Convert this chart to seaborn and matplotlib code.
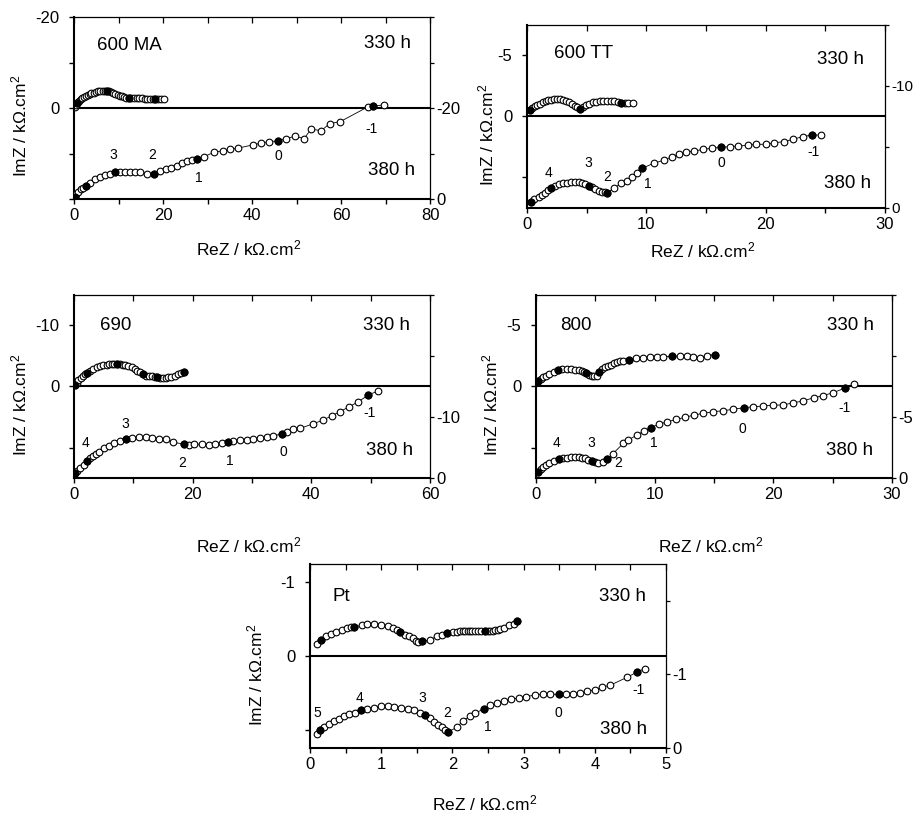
import matplotlib
matplotlib.use("Agg")
import matplotlib.pyplot as plt
import seaborn as sns
from matplotlib import font_manager

# ------------------------------------------------------------------ data
# 600 MA
ma_re_330 = [0.2,0.4,0.6,0.9,1.2,1.5,1.9,2.3,2.7,3.1,3.5,3.9,4.4,4.9,5.4,5.9,6.4,6.9,7.3,7.8,8.3,8.8,9.3,9.8,10.3,10.8,11.3,11.7,12.3,12.9,13.5,14.1,14.7,15.3,15.9,16.5,17.1,17.7,18.3,18.9,19.5,20.3]
ma_im_330 = [-0.3,-0.7,-1.0,-1.35,-1.65,-1.9,-2.2,-2.45,-2.7,-2.9,-3.1,-3.25,-3.4,-3.55,-3.65,-3.72,-3.78,-3.8,-3.75,-3.65,-3.5,-3.35,-3.15,-2.95,-2.75,-2.55,-2.4,-2.3,-2.25,-2.2,-2.2,-2.15,-2.15,-2.1,-2.05,-2.05,-2.0,-1.95,-1.95,-1.9,-1.95,-2.0]
ma_fill_330 = [2, 18, 28, 38]
ma_re_380 = [0.2,0.5,1.0,1.6,2.1,2.7,3.6,4.7,5.8,7.0,8.1,9.1,10.4,11.5,12.6,13.7,14.8,16.3,18.0,19.3,20.7,21.9,23.1,24.3,25.4,26.4,27.7,29.2,31.5,33.4,35.1,36.9,40.2,42.0,43.9,45.8,47.6,49.7,51.7,53.3,55.5,57.5,59.8,66.1,67.1,69.7]
ma_im_380 = [-0.4,-1.0,-1.6,-2.1,-2.4,-2.8,-3.6,-4.3,-4.9,-5.3,-5.6,-5.87,-5.95,-5.95,-5.95,-5.9,-5.85,-5.5,-5.45,-6.2,-6.5,-6.9,-7.25,-8.0,-8.4,-8.6,-8.9,-9.3,-10.3,-10.6,-10.9,-11.2,-11.9,-12.3,-12.6,-12.8,-13.3,-13.8,-13.3,-15.4,-15.0,-16.6,-17.0,-20.3,-20.4,-20.7]
ma_fill_380 = [0, 5, 11, 18, 26, 35, 44]
ma_dec_text = ["3", "2", "1", "0", "-1"]
ma_dec_x = [8.8, 17.5, 28.1, 45.9, 66.9]
ma_dec_y = [-9.7, -9.7, -4.7, -9.5, -15.5]

# 600 TT
tt_re_330 = [0.28,0.45,0.65,0.85,1.05,1.3,1.55,1.8,2.05,2.3,2.55,2.8,3.05,3.3,3.55,3.8,4.0,4.2,4.47,4.7,4.95,5.2,5.5,5.8,6.1,6.4,6.7,7.0,7.3,7.6,7.9,8.2,8.5,8.9]
tt_im_330 = [-0.57,-0.7,-0.82,-0.95,-1.05,-1.15,-1.25,-1.32,-1.37,-1.4,-1.4,-1.4,-1.37,-1.3,-1.2,-1.05,-0.9,-0.75,-0.63,-0.8,-0.95,-1.05,-1.15,-1.22,-1.27,-1.3,-1.3,-1.28,-1.25,-1.18,-1.1,-1.07,-1.07,-1.07]
tt_fill_330 = [0, 18, 30]
tt_re_380 = [0.34,0.6,0.98,1.25,1.54,1.8,2.04,2.35,2.65,3.0,3.35,3.7,4.05,4.35,4.6,4.9,5.17,5.45,5.73,6.0,6.29,6.5,6.7,7.27,7.88,8.38,8.8,9.22,9.64,10.6,11.5,12.15,12.7,13.3,14.0,14.75,15.5,16.26,17.0,17.7,18.5,19.2,20.0,20.7,21.5,22.3,23.1,23.9,24.6]
tt_im_380 = [-0.52,-0.72,-0.93,-1.1,-1.25,-1.45,-1.66,-1.82,-1.94,-2.02,-2.07,-2.11,-2.13,-2.11,-2.07,-1.97,-1.83,-1.68,-1.53,-1.42,-1.34,-1.28,-1.25,-1.61,-2.02,-2.2,-2.57,-2.84,-3.25,-3.66,-3.93,-4.2,-4.43,-4.57,-4.67,-4.8,-4.9,-4.97,-5.03,-5.08,-5.14,-5.22,-5.22,-5.35,-5.43,-5.63,-5.85,-5.98,-5.98]
tt_fill_380 = [0, 6, 16, 22, 28, 37, 47]
tt_dec_text = ["4", "3", "2", "1", "0", "-1"]
tt_dec_x = [1.8, 5.1, 6.7, 10.1, 16.3, 24.0]
tt_dec_y = [-2.84, -3.66, -2.57, -1.94, -3.66, -4.62]

# 690
a690_re_330 = [0.17,0.45,0.73,1.1,1.5,1.85,2.2,2.7,3.25,3.8,4.4,4.95,5.5,5.95,6.35,6.8,7.2,7.7,8.2,8.6,9.1,9.7,10.2,10.6,11.1,11.7,12.2,12.7,13.1,13.6,14.0,14.5,15.0,15.5,15.9,16.4,17.0,17.5,18.0,18.6]
a690_im_330 = [-0.2,-0.6,-1.0,-1.4,-1.75,-2.0,-2.2,-2.55,-2.9,-3.15,-3.33,-3.45,-3.55,-3.63,-3.7,-3.72,-3.72,-3.65,-3.55,-3.45,-3.3,-3.12,-2.9,-2.62,-2.3,-1.97,-1.8,-1.7,-1.64,-1.55,-1.5,-1.45,-1.42,-1.45,-1.53,-1.62,-1.8,-2.0,-2.2,-2.4]
a690_fill_330 = [0, 6, 16, 25, 30, 39]
a690_re_380 = [0.17,0.55,1.0,1.6,2.25,2.75,3.25,3.7,4.2,5.06,5.9,6.74,7.75,8.76,9.8,10.95,12.1,13.2,14.3,15.45,16.7,18.5,19.3,20.3,21.5,22.8,23.8,25.0,25.9,26.85,28.0,29.1,30.2,31.3,32.5,33.5,35.0,35.95,36.96,38.1,40.2,42.0,43.4,44.8,46.4,47.9,49.6,51.3]
a690_im_380 = [-0.87,-1.2,-1.59,-2.2,-2.84,-3.25,-3.6,-3.95,-4.3,-4.86,-5.3,-5.8,-6.1,-6.34,-6.6,-6.67,-6.67,-6.5,-6.39,-6.34,-5.85,-5.57,-5.41,-5.52,-5.52,-5.41,-5.52,-5.79,-5.95,-6.07,-6.23,-6.23,-6.39,-6.5,-6.67,-6.89,-7.21,-7.6,-8.03,-8.14,-8.85,-9.5,-10.2,-10.87,-11.7,-12.5,-13.6,-14.3]
a690_fill_380 = [0, 4, 13, 21, 28, 36, 46]
a690_dec_text = ["4", "3", "2", "1", "0", "-1"]
a690_dec_x = [2.0, 8.6, 18.3, 26.2, 35.2, 49.8]
a690_dec_y = [-5.68, -8.85, -2.4, -2.84, -4.3, -10.6]

# 800
a800_re_330 = [0.2,0.4,0.62,0.85,1.12,1.5,1.88,2.2,2.59,2.95,3.29,3.6,3.85,4.05,4.2,4.45,4.69,4.9,5.11,5.34,5.58,5.81,6.05,6.3,6.55,6.8,7.08,7.36,7.87,8.43,9.0,9.6,10.2,10.7,11.5,12.1,12.7,13.2,13.8,14.4,15.1]
a800_im_330 = [-0.49,-0.62,-0.77,-0.9,-1.04,-1.22,-1.37,-1.42,-1.45,-1.43,-1.39,-1.35,-1.31,-1.2,-1.09,-0.98,-0.9,-0.86,-0.85,-1.17,-1.4,-1.58,-1.68,-1.78,-1.9,-1.99,-2.06,-2.13,-2.19,-2.32,-2.35,-2.4,-2.42,-2.44,-2.46,-2.46,-2.46,-2.44,-2.35,-2.54,-2.62]
a800_fill_330 = [0, 6, 14, 19, 28, 34, 40]
a800_re_380 = [0.2,0.4,0.62,0.85,1.12,1.5,1.96,2.3,2.59,2.95,3.29,3.6,3.85,4.1,4.4,4.69,4.95,5.25,5.62,6.0,6.46,7.36,7.78,8.49,9.1,9.7,10.4,11.06,11.8,12.55,13.3,14.1,14.9,15.8,16.6,17.5,18.3,19.15,20.0,20.8,21.7,22.5,23.4,24.2,25.05,26.0,26.8]
a800_im_380 = [-0.52,-0.7,-0.88,-1.05,-1.2,-1.38,-1.53,-1.6,-1.67,-1.72,-1.75,-1.73,-1.67,-1.6,-1.5,-1.39,-1.32,-1.26,-1.34,-1.53,-1.97,-2.84,-3.11,-3.52,-3.85,-4.13,-4.43,-4.6,-4.8,-4.97,-5.16,-5.3,-5.43,-5.52,-5.63,-5.76,-5.84,-5.9,-5.98,-5.98,-6.17,-6.31,-6.58,-6.75,-7.0,-7.35,-7.68]
a800_fill_380 = [0, 6, 15, 19, 25, 35, 45]
a800_dec_text = ["4", "3", "2", "1", "0", "-1"]
a800_dec_x = [1.74, 4.69, 6.94, 9.89, 17.4, 25.96]
a800_dec_y = [-2.84, -2.84, -1.2, -2.84, -3.99, -5.71]

# Pt
pt_re_330 = [0.10,0.15,0.23,0.30,0.37,0.445,0.515,0.57,0.62,0.73,0.80,0.90,0.99,1.09,1.17,1.22,1.27,1.33,1.39,1.44,1.49,1.52,1.57,1.69,1.78,1.85,1.93,2.01,2.06,2.11,2.15,2.18,2.22,2.25,2.28,2.32,2.36,2.40,2.46,2.50,2.53,2.57,2.60,2.64,2.67,2.73,2.80,2.86,2.91]
pt_im_330 = [-0.17,-0.22,-0.27,-0.30,-0.33,-0.36,-0.38,-0.39,-0.40,-0.415,-0.43,-0.43,-0.425,-0.41,-0.38,-0.355,-0.33,-0.29,-0.27,-0.24,-0.21,-0.19,-0.20,-0.22,-0.27,-0.29,-0.315,-0.325,-0.33,-0.335,-0.335,-0.34,-0.34,-0.34,-0.34,-0.34,-0.34,-0.34,-0.34,-0.34,-0.34,-0.345,-0.35,-0.36,-0.37,-0.38,-0.415,-0.44,-0.48]
pt_fill_330 = [1, 8, 16, 22, 26, 38, 48]
pt_re_380 = [0.10,0.14,0.20,0.27,0.34,0.41,0.48,0.55,0.63,0.71,0.80,0.90,1.00,1.09,1.18,1.28,1.37,1.46,1.54,1.61,1.68,1.74,1.80,1.85,1.90,1.94,2.06,2.15,2.24,2.32,2.44,2.53,2.62,2.72,2.82,2.93,3.04,3.16,3.27,3.37,3.49,3.60,3.70,3.79,3.89,4.00,4.10,4.21,4.45,4.59,4.70]
pt_im_380 = [-0.19,-0.24,-0.28,-0.33,-0.37,-0.40,-0.43,-0.46,-0.48,-0.51,-0.53,-0.55,-0.57,-0.57,-0.56,-0.54,-0.53,-0.51,-0.475,-0.45,-0.41,-0.36,-0.315,-0.28,-0.25,-0.22,-0.28,-0.37,-0.43,-0.475,-0.53,-0.58,-0.61,-0.64,-0.66,-0.68,-0.70,-0.72,-0.73,-0.73,-0.73,-0.74,-0.74,-0.745,-0.77,-0.79,-0.83,-0.85,-0.96,-1.03,-1.08]
pt_fill_380 = [1, 9, 19, 25, 30, 40, 49]
pt_dec_text = ["5", "4", "3", "2", "1", "0", "-1"]
pt_dec_x = [0.10, 0.69, 1.58, 1.93, 2.50, 3.49, 4.61]
pt_dec_y = [-0.48, -0.68, -0.68, -0.48, -0.29, -0.48, -0.79]

# tick labels
ma_xticks = [0, 10, 20, 30, 40, 50, 60, 70, 80]
ma_xlabels = ["0", "", "20", "", "40", "", "60", "", "80"]
tt_xticks = [0, 5, 10, 15, 20, 25, 30]
tt_xlabels = ["0", "", "10", "", "20", "", "30"]
a690_xticks = [0, 10, 20, 30, 40, 50, 60]
a690_xlabels = ["0", "", "20", "", "40", "", "60"]
pt_xticks = [0, 0.5, 1, 1.5, 2, 2.5, 3, 3.5, 4, 4.5, 5]
pt_xlabels = ["0", "", "1", "", "2", "", "3", "", "4", "", "5"]

samples = ["600 MA", "600 TT", "690", "800", "Pt"]
time_top, time_bottom = "330 h", "380 h"

# ------------------------------------------------------------------ style
sns.set_theme(style="white", rc={"axes.edgecolor": "black", "xtick.color": "black",
                                 "ytick.color": "black", "text.color": "black",
                                 "axes.labelcolor": "black"})
names = {f.name for f in font_manager.fontManager.ttflist}
fam = "Liberation Sans Narrow" if "Liberation Sans Narrow" in names else "Liberation Sans"
plt.rcParams["font.family"] = [fam, "DejaVu Sans"]
plt.rcParams["mathtext.fontset"] = "custom"
plt.rcParams["mathtext.rm"] = fam
plt.rcParams["mathtext.it"] = fam
plt.rcParams["mathtext.bf"] = fam

MS = 4.8
TICK_FS = 12
LAB_FS = 12.5
TXT_FS = 13.5
DEC_FS = 10

fig = plt.figure(figsize=(9.14, 8.16), dpi=100)


def draw(rect, name, xmax, xt, xtl, A, lyt, lytl, ryt, rytl,
         re330, im330, f330, re380, im380, f380, dtext, dx, dy,
         name_pos, top_pos, bot_pos, ylab_x, xlab_y, rfs=TICK_FS):
    ax = fig.add_axes(rect)
    ax2 = ax.twinx()
    ax.axhline(0, color="black", lw=1.5, zorder=1)
    open_kw = dict(color="black", lw=0.6, marker="o", markersize=MS,
                   markerfacecolor="white", markeredgecolor="black",
                   markeredgewidth=0.8, sort=False, estimator=None)
    sns.lineplot(x=re330, y=im330, ax=ax, **open_kw)
    sns.scatterplot(x=[re330[i] for i in f330], y=[im330[i] for i in f330], ax=ax,
                    color="black", s=MS ** 2 * 1.1, edgecolor="black", linewidth=0.8, zorder=5)
    sns.lineplot(x=re380, y=im380, ax=ax2, **open_kw)
    sns.scatterplot(x=[re380[i] for i in f380], y=[im380[i] for i in f380], ax=ax2,
                    color="black", s=MS ** 2 * 1.1, edgecolor="black", linewidth=0.8, zorder=5)
    for t, x, y in zip(dtext, dx, dy):
        ax2.text(x, y, t, ha="center", va="center", fontsize=DEC_FS)

    ax.set_xlim(0, xmax)
    ax.set_ylim(A, -A)
    ax2.set_ylim(0, -2 * A)

    ax.set_xticks(xt, xtl)
    ax.set_yticks(lyt, lytl)
    ax2.set_yticks(ryt, rytl)
    ax.tick_params(axis="x", which="both", bottom=True, top=False, direction="out",
                   length=3.5, width=1, pad=3, labelsize=TICK_FS)
    ax.tick_params(axis="y", which="both", left=True, right=False, direction="out",
                   length=3.5, width=1, pad=7, labelsize=TICK_FS)
    ax2.xaxis.set_visible(True)
    ax2.tick_params(axis="x", which="both", bottom=False, labelbottom=False, top=True,
                    labeltop=False, direction="in", length=4.5, width=0.9)
    ax2.tick_params(axis="y", which="both", left=False, right=True, direction="out",
                    length=3, width=0.9, pad=1.5, labelsize=rfs)

    for s in ["left", "bottom"]:
        ax.spines[s].set_linewidth(1.5)
    ax.spines["top"].set_linewidth(0.9)
    ax.spines["right"].set_visible(False)
    for s in ["left", "bottom", "top"]:
        ax2.spines[s].set_visible(False)
    ax2.spines["right"].set_linewidth(0.9)
    ax2.set_ylabel("")
    ax2.set_xlabel("")

    ax.set_ylabel("ImZ / k\u03a9.cm$^2$", fontsize=LAB_FS, va="center")
    ax.yaxis.set_label_coords(ylab_x, 0.40)
    ax.set_xlabel("ReZ / k\u03a9.cm$^2$", fontsize=LAB_FS, va="baseline")
    ax.xaxis.set_label_coords(0.49, xlab_y)

    ax.text(name_pos[0], name_pos[1], name, transform=ax.transAxes,
            ha="left", va="center", fontsize=TXT_FS)
    ax.text(top_pos[0], top_pos[1], time_top, transform=ax.transAxes,
            ha="right", va="center", fontsize=TXT_FS)
    ax.text(bot_pos[0], bot_pos[1], time_bottom, transform=ax.transAxes,
            ha="right", va="center", fontsize=TXT_FS)
    return ax, ax2


draw([0.0810, 0.7561, 0.3895, 0.2230], samples[0], 80, ma_xticks, ma_xlabels, 20,
     [-20, -10, 0, 10, 20], ["-20", "", "0", "", ""],
     [-40, -30, -20, -10, 0], ["", "", "-20", "", "0"],
     ma_re_330, ma_im_330, ma_fill_330, ma_re_380, ma_im_380, ma_fill_380,
     ma_dec_text, ma_dec_x, ma_dec_y,
     (0.065, 0.846), (0.947, 0.857), (0.958, 0.159), -0.152, -0.308)

draw([0.5766, 0.7451, 0.3917, 0.2243], samples[1], 30, tt_xticks, tt_xlabels, 7.5,
     [-5, 0, 5], ["-5", "0", ""],
     [-15, -10, -5, 0], ["", "-10", "", "0"],
     tt_re_330, tt_im_330, tt_fill_330, tt_re_380, tt_im_380, tt_fill_380,
     tt_dec_text, tt_dec_x, tt_dec_y,
     (0.075, 0.845), (0.942, 0.813), (0.962, 0.135), -0.112, -0.268, rfs=11)

draw([0.0810, 0.4142, 0.3895, 0.2243], samples[2], 60, a690_xticks, a690_xlabels, 15,
     [-10, 0, 10], ["-10", "0", ""],
     [-30, -20, -10, 0], ["", "", "-10", "0"],
     a690_re_330, a690_im_330, a690_fill_330, a690_re_380, a690_im_380, a690_fill_380,
     a690_dec_text, a690_dec_x, a690_dec_y,
     (0.073, 0.836), (0.944, 0.836), (0.952, 0.153), -0.152, -0.404)

draw([0.5864, 0.4142, 0.3895, 0.2243], samples[3], 30, tt_xticks, tt_xlabels, 7.5,
     [-5, 0, 5], ["-5", "0", ""],
     [-15, -10, -5, 0], ["", "", "-5", "0"],
     a800_re_330, a800_im_330, a800_fill_330, a800_re_380, a800_im_380, a800_fill_380,
     a800_dec_text, a800_dec_x, a800_dec_y,
     (0.067, 0.836), (0.950, 0.836), (0.948, 0.153), -0.128, -0.404)

draw([0.3392, 0.0833, 0.3895, 0.2255], samples[4], 5, pt_xticks, pt_xlabels, 1.25,
     [-1, 0, 1], ["-1", "0", ""],
     [-2, -1, 0], ["", "-1", "0"],
     pt_re_330, pt_im_330, pt_fill_330, pt_re_380, pt_im_380, pt_fill_380,
     pt_dec_text, pt_dec_x, pt_dec_y,
     (0.063, 0.826), (0.944, 0.826), (0.946, 0.103), -0.153, -0.337)

fig.savefig("out.png", dpi=100)
